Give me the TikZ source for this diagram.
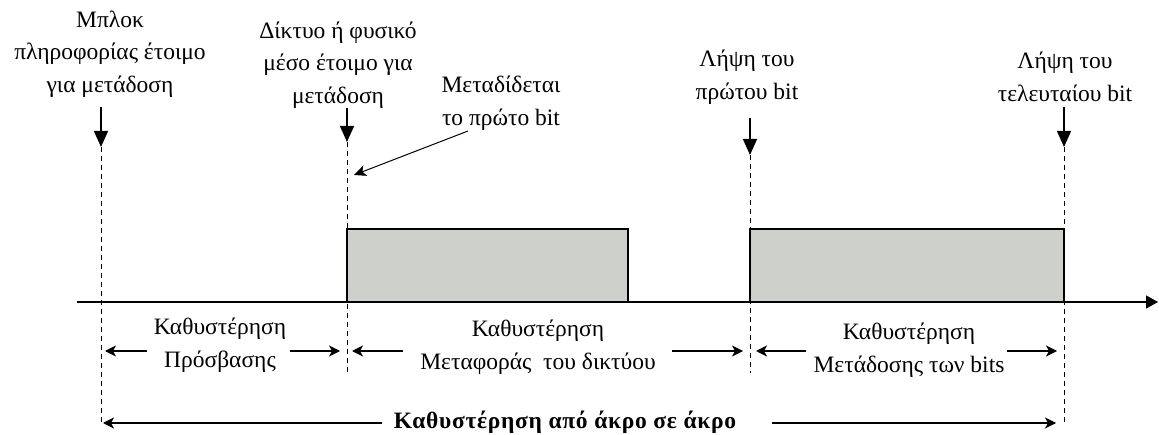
\documentclass[tikz,border=0pt]{standalone}
\usepackage{fontspec}
\setmainfont{Liberation Serif}
\usetikzlibrary{arrows.meta, positioning, calc}

\definecolor{pulsegray}{RGB}{205,208,203}

\begin{document}
\begin{tikzpicture}[x=1pt, y=-1pt,
  txt/.style      = {align=center, inner sep=0pt, font=\fontsize{23.5}{32.5}\selectfont},
  pulse/.style    = {draw, line width=1.3pt, fill=pulsegray},
  guideline/.style = {dash pattern=on 5pt off 4pt, line width=1pt},
  axisline/.style = {line width=1.3pt, -{Triangle[length=12pt, width=13pt]}},
  droparrow/.style = {line width=1.4pt, -{Triangle[length=16pt, width=14pt]}},
  dimarrow/.style = {line width=1.3pt, -{Stealth[length=11pt, width=11pt, inset=3pt]}},
  leader/.style   = {line width=1pt, -{Stealth[length=12pt, width=11pt, inset=3pt]}}
]
\useasboundingbox (0,0) rectangle (1159,435);

%--------------------------------------------------
% time instants on the axis
%--------------------------------------------------
\coordinate (t_ready) at (101,302);
\coordinate (t_net)   at (347,302);
\coordinate (t_recv)  at (750,302);
\coordinate (t_last)  at (1064,302);

\coordinate (ready_tip) at (101,147);
\coordinate (net_tip)   at (347,142);
\coordinate (recv_tip)  at (750,155);
\coordinate (last_tip)  at (1064,147);

% dashed guides
\draw[guideline] (ready_tip) -- (101,422);
\draw[guideline] (net_tip)   -- (347,372);
\draw[guideline] (recv_tip)  -- (750,373);
\draw[guideline] (last_tip)  -- (1064,422);

%--------------------------------------------------
% transmitted blocks
%--------------------------------------------------
\draw[pulse] (t_net) rectangle (628,229);
\draw[pulse] (t_recv) rectangle (t_last |- 0,229);

% time axis
\coordinate (ax_start) at (77,302);
\coordinate (ax_end)   at (1158,302);
\draw[axisline] (ax_start) -- (ax_end);

%--------------------------------------------------
% events (top)
%--------------------------------------------------
\node[txt] (lbl_ready) at (110,54) {Μπλοκ\\πληροφορίας έτοιμο\\για μετάδοση};
\node[txt] (lbl_net)   at (338,65) {Δίκτυο ή φυσικό\\μέσο έτοιμο για\\μετάδοση};
\node[txt] (lbl_first) at (501,103) {Μεταδίδεται\\το πρώτο bit};
\node[txt] (lbl_recv)  at (747,77) {Λήψη του\\πρώτου bit};
\node[txt] (lbl_last)  at (1065,77) {Λήψη του\\τελευταίου bit};

\draw[droparrow] ($(ready_tip)+(0,-40)$) -- (ready_tip);
\draw[droparrow] ($(net_tip)+(0,-34)$)   -- (net_tip);
\draw[droparrow] ($(recv_tip)+(0,-37)$)  -- (recv_tip);
\draw[droparrow] ($(last_tip)+(0,-40)$)  -- (last_tip);

% first bit leaves
\coordinate (first_tail) at (468,131);
\coordinate (first_tip)  at (354,175);
\draw[leader] (first_tail) -- (first_tip);

%--------------------------------------------------
% delays (bottom)
%--------------------------------------------------
\node[txt] (lbl_access)   at (220,345) {Καθυστέρηση\\Πρόσβασης};
\node[txt] (lbl_transfer) at (538,347) {Καθυστέρηση\\Μεταφοράς\ \ του δικτύου};
\node[txt] (lbl_bits)     at (909,350) {Καθυστέρηση\\Μετάδοσης των bits};
\node[txt, font=\fontsize{23.5}{32.5}\selectfont\bfseries\addfontfeature{LetterSpace=3}]
  (lbl_total) at (565,422) {Καθυστέρηση από άκρο σε άκρο};

\coordinate (acc_l) at (147,351);  \coordinate (acc_r) at (290,351);
\coordinate (net_l) at (403,351);  \coordinate (net_r) at (672,351);
\coordinate (bit_l) at (806,351);  \coordinate (bit_r) at (1007,351);
\coordinate (tot_l) at (382,423);  \coordinate (tot_r) at (772,423);

\draw[dimarrow, shorten >=4pt] (acc_l) -- (acc_l -| t_ready);
\draw[dimarrow, shorten >=7pt] (acc_r) -- (acc_r -| t_net);
\draw[dimarrow, shorten >=5pt] (net_l) -- (net_l -| t_net);
\draw[dimarrow, shorten >=7pt] (net_r) -- (net_r -| t_recv);
\draw[dimarrow, shorten >=6pt] (bit_l) -- (bit_l -| t_recv);
\draw[dimarrow, shorten >=7pt] (bit_r) -- (bit_r -| t_last);
\draw[dimarrow, shorten >=2pt] (tot_l) -- (tot_l -| t_ready);
\draw[dimarrow, shorten >=8pt] (tot_r) -- (tot_r -| t_last);

\end{tikzpicture}
\end{document}
